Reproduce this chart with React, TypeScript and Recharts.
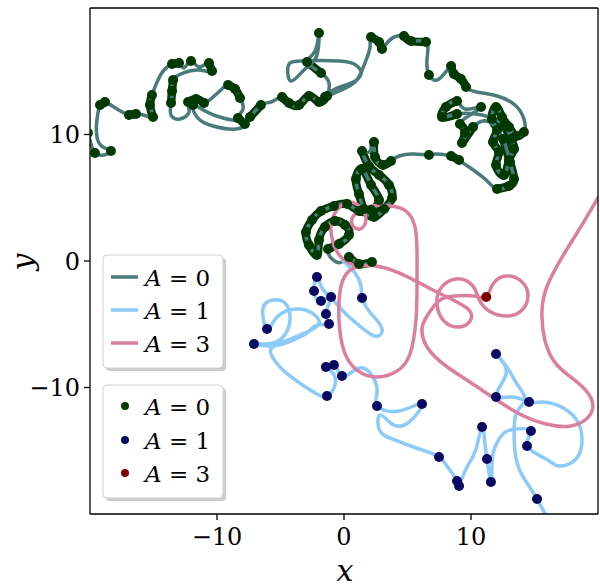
import { ComposedChart, Line, Scatter, XAxis, YAxis, ReferenceLine } from "recharts"

// [x, y, stop]  stop = 1 where a state marker sits
type P = [number, number, number]

const pathA0: P[] = [
    [-20.16, 10.12, 1], [-19.92, 9.25, 0], [-19.61, 8.54, 1], [-18.9, 8.38, 0], [-18.35, 8.7, 1],
    [-18.98, 9.01, 0], [-19.45, 9.8, 0], [-19.45, 11.23, 0], [-19.21, 12.33, 1], [-18.82, 12.57, 1],
    [-17.87, 12.02, 0], [-16.93, 11.54, 1], [-16.38, 11.62, 1], [-15.51, 11.46, 0], [-15.04, 11.38, 1],
    [-15.28, 12.33, 1], [-15.12, 13.12, 1], [-14.72, 14.15, 0], [-14.17, 15.1, 0], [-13.54, 15.57, 1],
    [-12.99, 15.65, 1], [-12.6, 15.26, 0], [-12.05, 15.81, 1], [-11.42, 15.34, 0], [-10.63, 15.65, 1],
    [-10.39, 15.02, 1], [-11.42, 15.1, 0], [-12.68, 14.86, 0], [-13.46, 14.31, 1], [-13.54, 13.44, 1],
    [-13.62, 12.49, 1], [-13.62, 11.54, 0], [-12.91, 11.23, 0], [-12.2, 11.78, 0], [-12.28, 12.57, 1],
    [-11.65, 12.81, 1], [-11.02, 12.49, 1], [-10.31, 12.96, 0], [-9.61, 13.6, 0], [-9.13, 13.91, 1],
    [-8.58, 13.6, 1], [-8.19, 12.89, 1], [-7.95, 12.02, 0], [-8.35, 11.3, 1], [-7.8, 10.83, 1],
    [-8.5, 10.43, 0], [-10.31, 10.67, 0], [-11.57, 11.38, 0], [-11.89, 12.33, 1], [-10.94, 11.86, 0],
    [-9.53, 11.3, 0], [-8.19, 11.07, 0], [-7.4, 11.38, 1], [-6.54, 12.33, 1], [-5.75, 12.57, 0],
    [-4.88, 12.96, 1], [-4.33, 12.49, 1], [-3.54, 12.33, 1], [-2.76, 13.04, 1], [-1.97, 12.57, 1],
    [-1.34, 13.04, 1], [-1.18, 14.07, 0], [-1.81, 14.86, 1], [-2.91, 15.73, 1], [-2.28, 16.6, 0],
    [-1.97, 18.02, 1], [-2.13, 16.28, 0], [-3.07, 15.18, 0], [-4.17, 14.23, 0], [-4.41, 15.34, 0],
    [-3.39, 15.81, 0], [-0.39, 15.81, 0], [0.94, 15.49, 0], [1.34, 14.78, 0], [0.55, 14.07, 0],
    [-0.71, 13.6, 0], [-1.5, 12.96, 1], [-0.39, 13.44, 0], [0.94, 14.23, 0], [1.65, 15.65, 0],
    [2.05, 16.92, 0], [2.13, 17.71, 1], [2.76, 17.31, 1], [2.99, 16.76, 1], [3.7, 17.55, 0],
    [4.72, 17.79, 1], [5.28, 17.39, 1], [6.46, 17.31, 1], [6.54, 15.97, 0], [6.69, 14.7, 1],
    [7.48, 14.39, 0], [8.43, 15.42, 1], [8.66, 14.78, 1], [9.21, 14.39, 1], [9.61, 13.75, 1],
    [10.47, 13.36, 0], [12.05, 13.04, 0], [13.46, 12.33, 0], [14.17, 11.23, 0], [14.17, 10.2, 1],
    [13.54, 9.88, 1], [12.99, 10.59, 1], [12.44, 11.38, 1], [11.97, 12.17, 1], [11.65, 11.23, 1],
    [12.05, 10.36, 1], [11.73, 9.41, 1], [12.2, 8.62, 1], [11.97, 7.59, 1], [12.6, 6.8, 1],
    [12.99, 7.98, 1], [13.39, 8.85, 1], [13.15, 9.64, 1], [12.6, 10.75, 1], [10.87, 11.54, 0],
    [8.9, 11.62, 1], [7.72, 11.38, 1], [8.03, 12.17, 1], [8.9, 12.65, 1], [9.53, 12.02, 0],
    [10.79, 12.17, 1], [9.92, 11.54, 0], [9.13, 10.83, 1], [9.53, 10.12, 1], [9.29, 9.33, 1],
    [10.16, 10.59, 1], [11.42, 10.99, 0], [12.52, 9.64, 1], [13.07, 7.83, 1], [13.39, 6.48, 1],
    [12.99, 5.93, 1], [12.05, 5.69, 1], [11.1, 6.48, 0], [9.84, 7.43, 0], [9.06, 7.98, 1],
    [8.43, 8.3, 1], [7.24, 8.46, 0], [6.69, 8.38, 1], [5.43, 8.46, 0], [4.33, 8.3, 0],
    [3.7, 7.91, 1], [3.07, 7.59, 1], [2.44, 8.22, 1], [2.36, 9.41, 1], [1.97, 8.62, 0],
    [1.42, 8.7, 1], [1.97, 7.51, 1], [2.76, 6.8, 1], [3.54, 6.01, 1], [3.78, 4.98, 1],
    [3.15, 4.11, 1], [2.36, 3.48, 1], [1.57, 4.11, 1], [1.18, 5.3, 1], [0.94, 6.48, 1],
    [1.42, 7.27, 1], [2.13, 6.01, 1], [2.76, 4.82, 1], [2.13, 4.03, 1], [1.18, 3.95, 1],
    [0.24, 4.51, 1], [-0.79, 4.35, 1], [-1.81, 3.95, 1], [-2.52, 3.24, 1], [-2.99, 2.29, 1],
    [-2.76, 1.26, 1], [-2.13, 0.47, 1], [-1.97, 1.66, 1], [-1.5, 2.69, 1], [-0.71, 3.16, 1],
    [0.08, 2.85, 1], [0.39, 2.06, 1], [-0.39, 1.34, 1], [-1.26, 0.95, 1], [-0.94, 0.16, 0],
    [-0.16, -0.08, 0], [0.39, 0.32, 1], [1.18, -0.24, 1], [2.2, -0.08, 1],
]

const pathA1: P[] = [
    [-0.16, 0.08, 0], [0.87, -0.95, 0], [1.34, -1.98, 0], [1.42, -2.92, 1], [1.97, -3.95, 0],
    [2.76, -4.9, 0], [2.99, -5.61, 0], [2.44, -5.93, 0], [1.34, -5.22, 0], [0.08, -4.11, 0],
    [-0.87, -3.08, 0], [-1.73, -2.13, 0], [-2.13, -1.26, 1], [-2.36, -2.37, 1], [-1.81, -3.16, 1],
    [-1.02, -2.85, 1], [-1.42, -4.19, 1], [-1.18, -4.98, 1], [-2.13, -5.06, 0], [-2.91, -5.69, 0],
    [-4.17, -6.32, 0], [-5.67, -6.72, 0], [-7.09, -6.56, 1], [-6.06, -6.56, 0], [-4.8, -6.01, 0],
    [-4.25, -4.58, 0], [-4.65, -3.32, 0], [-5.59, -3.08, 0], [-6.38, -3.79, 0], [-6.06, -5.38, 1],
    [-5.28, -4.43, 0], [-3.78, -3.79, 0], [-2.52, -4.11, 0], [-1.97, -4.98, 0], [-3.07, -5.69, 0],
    [-4.57, -6.32, 0], [-5.75, -6.96, 0], [-5.43, -7.91, 0], [-4.65, -8.77, 0], [-3.39, -9.72, 0],
    [-2.13, -10.51, 0], [-1.34, -10.67, 1], [-0.71, -9.8, 0], [-0.94, -8.77, 0], [-1.42, -8.38, 1],
    [-0.79, -8.22, 1], [-0.16, -9.09, 1], [0.71, -8.7, 0], [1.5, -8.46, 0], [2.28, -9.17, 0],
    [2.6, -10.43, 0], [2.6, -11.46, 1], [4.33, -11.86, 0], [6.14, -11.3, 1], [5.12, -12.73, 0],
    [3.78, -12.89, 0], [2.83, -12.17, 0], [2.76, -13.28, 0], [3.78, -14.07, 0], [5.91, -14.86, 0],
    [7.48, -15.49, 1], [8.27, -16.44, 0], [8.9, -17.39, 1], [9.06, -17.79, 1], [9.61, -16.44, 0],
    [10.39, -14.86, 0], [10.87, -13.12, 1], [11.1, -14.47, 0], [11.26, -15.65, 1], [11.57, -17.47, 1],
    [11.65, -16.05, 0], [11.89, -14.7, 0], [12.6, -13.6, 0], [13.54, -13.28, 0], [14.72, -13.44, 1],
    [14.41, -14.62, 1], [15.91, -15.65, 0], [16.93, -16.21, 0], [18.27, -15.65, 0], [18.74, -14.07, 0],
    [18.27, -12.49, 0], [16.93, -11.46, 0], [15.59, -11.15, 0], [14.57, -11.15, 1], [13.23, -10.75, 0],
    [11.97, -10.75, 1], [12.52, -9.49, 0], [12.68, -8.3, 0], [11.97, -7.35, 1], [12.83, -8.38, 0],
    [13.62, -9.72, 0], [14.25, -10.91, 0], [13.62, -11.94, 0], [13.39, -13.44, 0], [13.46, -15.02, 0],
    [13.86, -16.6, 0], [14.72, -18.02, 0], [15.2, -18.81, 1], [15.98, -20.24, 0],
]

const pathA3: P[] = [
    [0.87, -0.4, 0], [-0.24, 0.32, 0], [-0.87, 1.5, 0], [-1.02, 2.85, 0], [-0.55, 4.03, 0],
    [0.39, 4.66, 0], [1.34, 4.19, 0], [1.73, 3.24, 0], [1.26, 2.53, 0], [0.63, 2.92, 0],
    [0.94, 3.79, 0], [2.13, 4.35, 0], [3.7, 4.35, 0], [4.88, 3.95, 0], [5.59, 2.69, 0],
    [5.75, 0.55, 0], [5.75, -1.82, 0], [5.67, -4.58, 0], [5.2, -7.35, 0], [4.17, -8.7, 0],
    [2.6, -9.17, 0], [1.02, -8.62, 0], [0, -7.11, 0], [-0.39, -4.74, 0], [-0.31, -2.37, 0],
    [0.24, -0.95, 0], [1.34, -0.4, 0], [2.91, -0.47, 0], [4.72, -1.11, 0], [6.69, -2.13, 0],
    [8.43, -3.0, 0], [9.84, -3.87, 0], [9.92, -4.74, 0], [9.06, -5.22, 0], [7.87, -4.74, 0],
    [7.32, -3.4, 0], [7.64, -2.13, 0], [8.82, -1.42, 0], [10.08, -1.9, 0], [10.63, -3.0, 0],
    [11.42, -3.95, 0], [12.83, -4.35, 0], [14.02, -3.87, 0], [14.49, -2.69, 0], [13.94, -1.58, 0],
    [12.76, -1.19, 0], [11.73, -1.82, 0], [11.2, -2.85, 1], [10.24, -2.77, 0], [8.66, -2.77, 0],
    [7.48, -3.16, 0], [6.54, -4.35, 0], [6.14, -5.38, 0], [6.54, -6.8, 0], [8.03, -8.3, 0],
    [10.39, -9.88, 0], [13.54, -11.94, 0], [15.91, -12.89, 0], [17.87, -13.04, 0], [19.37, -12.17, 0],
    [19.45, -10.83, 0], [18.35, -9.57, 0], [16.77, -8.22, 0], [15.83, -6.32, 0], [15.59, -3.95, 0],
    [16.06, -1.82, 0], [17.32, 0.55, 0], [18.74, 2.85, 0], [20.31, 5.53, 0],
]

const states = ["0", "1", "3"]
const paths = [pathA0, pathA1, pathA3]
const lineColors = ["#4a7b7b", "#8ccafa", "#db7fa1"]
const dotColors = ["#033a03", "#0a0a62", "#7b0000"]
const ticks = [-10, 0, 10]

const toLine = (p: P[]) => p.map(([x, y]) => ({ x, y }))
const toStops = (p: P[]) => p.filter((q) => q[2] === 1).map(([x, y]) => ({ x, y }))
const fmt = (v: number) => (v < 0 ? `\u2212${Math.abs(v)}` : `${v}`)

// consecutive marker runs of the A=0 walk, drawn as a dark band under the line
function stopRuns(p: P[]) {
    const runs: { x: number; y: number }[][] = []
    let cur: { x: number; y: number }[] = []
    p.forEach(([x, y, s]) => {
        if (s === 1) cur.push({ x, y })
        else {
            if (cur.length > 1) runs.push(cur)
            cur = []
        }
    })
    if (cur.length > 1) runs.push(cur)
    return runs
}
const runsA0 = stopRuns(pathA0)

const serif = "DejaVu Serif"
const tickStyle = { fontFamily: serif, fontSize: 24, fill: "#000" }

function dotShape(fill: string) {
    return (p: any) => <circle cx={p.cx} cy={p.cy} r={5} fill={fill} />
}

function LegendBox({ top, height, kind }: { top: number; height: number; kind: "line" | "dot" }) {
    const rows = kind === "line" ? [277, 310, 343] : [406, 440, 473]
    return (
        <g>
            <rect x={106} y={top + 3} width={120} height={height} rx={4} fill="#999" opacity={0.5} />
            <rect x={103} y={top} width={120} height={height} rx={4} fill="#fff" stroke="#d0d0d0" />
            {states.map((s, i) => (
                <g key={s}>
                    {kind === "line" ? (
                        <line x1={111} x2={138} y1={rows[i]} y2={rows[i]} stroke={lineColors[i]} strokeWidth={3.5} />
                    ) : (
                        <circle cx={125} cy={rows[i]} r={4} fill={dotColors[i]} />
                    )}
                    <text x={145} y={rows[i] + 9} fontFamily={serif} fontSize={23} fill="#000">
                        <tspan fontStyle="italic">A</tspan> = {s}
                    </text>
                </g>
            ))}
        </g>
    )
}

export default function App() {
    return (
        <div style={{ position: "absolute", left: 0, top: 0, width: 600, height: 587, background: "#fff" }}>
            <ComposedChart width={600} height={587} margin={{ top: 8, right: 2, bottom: 3, left: 0 }}>
                <XAxis
                    type="number"
                    dataKey="x"
                    domain={[-20, 20]}
                    ticks={ticks}
                    allowDataOverflow
                    height={70}
                    tickSize={6}
                    tickMargin={8}
                    tickFormatter={fmt}
                    tick={tickStyle}
                    axisLine={{ stroke: "#000", strokeWidth: 1.3 }}
                    tickLine={{ stroke: "#000", strokeWidth: 1.3 }}
                />
                <YAxis
                    type="number"
                    dataKey="y"
                    domain={[-20, 20]}
                    ticks={ticks}
                    allowDataOverflow
                    width={90}
                    tickSize={6}
                    tickMargin={4}
                    tickFormatter={fmt}
                    tick={tickStyle}
                    axisLine={{ stroke: "#000", strokeWidth: 1.3 }}
                    tickLine={{ stroke: "#000", strokeWidth: 1.3 }}
                />
                {runsA0.map((r, k) => (
                    <Line
                        key={"r" + k}
                        data={r}
                        dataKey="y"
                        type="natural"
                        stroke={dotColors[0]}
                        strokeWidth={8.5}
                        strokeLinecap="round"
                        strokeLinejoin="round"
                        dot={false}
                        activeDot={false}
                        isAnimationActive={false}
                    />
                ))}
                {paths.map((p, i) => (
                    <Scatter
                        key={"s" + i}
                        data={toStops(p)}
                        shape={dotShape(dotColors[i])}
                        isAnimationActive={false}
                    />
                ))}
                {paths.map((p, i) => (
                    <Line
                        key={"l" + i}
                        data={toLine(p)}
                        dataKey="y"
                        type="natural"
                        stroke={lineColors[i]}
                        strokeWidth={3.5}
                        strokeLinejoin="round"
                        dot={false}
                        activeDot={false}
                        isAnimationActive={false}
                    />
                ))}
                <ReferenceLine x={20} stroke="#000" strokeWidth={1.3} />
                <ReferenceLine y={20} stroke="#000" strokeWidth={1.3} />
            </ComposedChart>
            <svg width={600} height={587} style={{ position: "absolute", left: 0, top: 0, pointerEvents: "none" }}>
                <LegendBox top={255} height={113} kind="line" />
                <LegendBox top={385} height={113} kind="dot" />
                <text x={345} y={581} textAnchor="middle" fontFamily={serif} fontStyle="italic" fontSize={30} fill="#000">
                    x
                </text>
                <text
                    x={22}
                    y={262}
                    transform="rotate(-90 22 262)"
                    textAnchor="middle"
                    dominantBaseline="central"
                    fontFamily={serif}
                    fontStyle="italic"
                    fontSize={30}
                    fill="#000"
                >
                    y
                </text>
            </svg>
        </div>
    )
}
